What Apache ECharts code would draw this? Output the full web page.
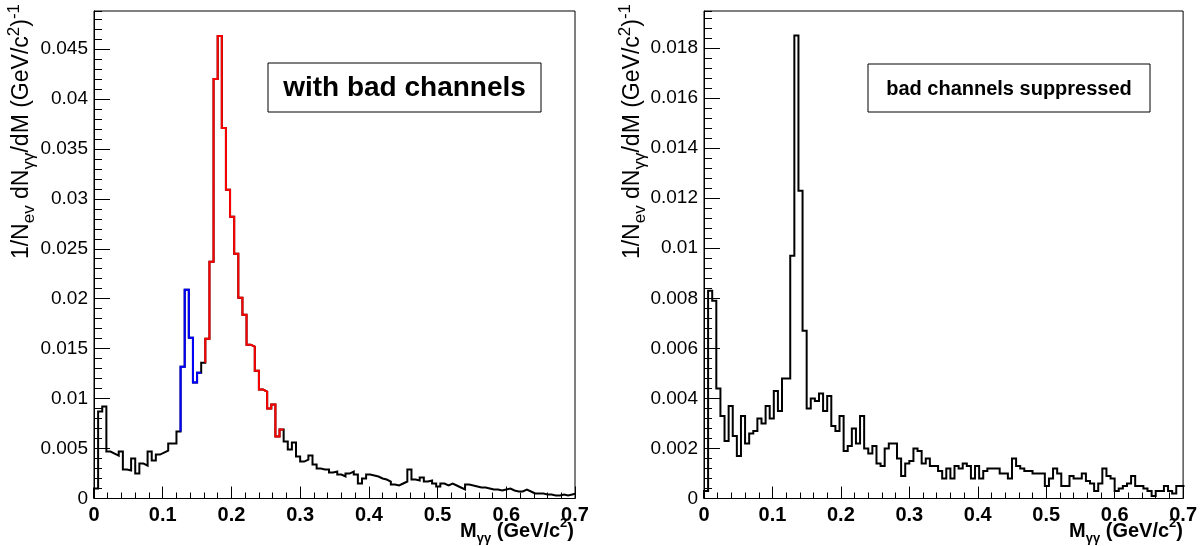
<!DOCTYPE html>
<html><head><meta charset="utf-8">
<script src="https://cdn.jsdelivr.net/npm/echarts@6/dist/echarts.min.js"></script>
<style>html,body{margin:0;padding:0;background:#fff}#c{width:1200px;height:546px}</style>
</head><body><div id="c"></div>
<script>
// ---------------- data ----------------
const BIN_WIDTH = 0.006;                 // histogram bin width in GeV/c^2
const xTickLabels = ['0', '0.1', '0.2', '0.3', '0.4', '0.5', '0.6', '0.7'];
const leftTitle = 'with bad channels';
const rightTitle = 'bad channels suppressed';

const leftValues = [
  0.0010, 0.0087, 0.0092, 0.0047, 0.0045, 0.0043, 0.0047, 0.0029, 0.0028, 0.0040,
  0.0025, 0.0035, 0.0033, 0.0047, 0.0038, 0.0044, 0.0046, 0.0048, 0.0055, 0.0055,
  0.0067, 0.0132, 0.0209, 0.0161, 0.0116, 0.0126, 0.0136, 0.0160, 0.0237, 0.0420,
  0.0463, 0.0371, 0.0309, 0.0282, 0.0245, 0.0201, 0.0184, 0.0154, 0.0152, 0.0128,
  0.0109, 0.0107, 0.0090, 0.0094, 0.0062, 0.0069, 0.0057, 0.0049, 0.0056, 0.0042,
  0.0037, 0.0039, 0.0043, 0.0034, 0.0030, 0.0029, 0.0029, 0.0026, 0.0027, 0.0024,
  0.0022, 0.0025, 0.0027, 0.0024, 0.0015, 0.0020, 0.0024, 0.0023, 0.0022, 0.0020,
  0.0019, 0.0017, 0.0014, 0.0013, 0.0015, 0.0017, 0.0029, 0.0019, 0.0018, 0.0021,
  0.0017, 0.0018, 0.0015, 0.0012, 0.0015, 0.0013, 0.0015, 0.0013, 0.0011, 0.0009,
  0.0014, 0.0013, 0.0012, 0.0011, 0.0011, 0.0010, 0.0009, 0.0009, 0.0008, 0.0009,
  0.0010, 0.0008, 0.0007, 0.0007, 0.0009, 0.0007, 0.0005, 0.0005, 0.0005, 0.0004,
  0.0004, 0.0003, 0.0003, 0.0004, 0.0003, 0.0004, 0.0005
];
const leftBlueBins = [21, 25];   // first / last bin drawn in blue
const leftRedBins = [27, 45];    // first / last bin drawn in red

const rightValues = [
  0.0003, 0.0083, 0.0079, 0.0044, 0.0033, 0.0023, 0.0037, 0.0025, 0.0017, 0.0033,
  0.0022, 0.0026, 0.0027, 0.0032, 0.0030, 0.0037, 0.0032, 0.0043, 0.0035, 0.0048,
  0.0048, 0.0097, 0.0185, 0.0123, 0.0067, 0.0036, 0.0040, 0.0039, 0.0042, 0.0035,
  0.0041, 0.0029, 0.0027, 0.0033, 0.0019, 0.0021, 0.0028, 0.0022, 0.0033, 0.0020,
  0.0018, 0.0021, 0.0014, 0.0013, 0.0020, 0.0022, 0.0022, 0.0016, 0.0009, 0.0014,
  0.0015, 0.0020, 0.0019, 0.0014, 0.0016, 0.0013, 0.0013, 0.0011, 0.0008, 0.0012,
  0.0008, 0.0013, 0.0012, 0.0014, 0.0013, 0.0008, 0.0013, 0.0008, 0.0011, 0.0012,
  0.0012, 0.0012, 0.0010, 0.0010, 0.0008, 0.0016, 0.0013, 0.0012, 0.0011, 0.0011,
  0.0010, 0.0010, 0.0010, 0.0005, 0.0008, 0.0012, 0.0010, 0.0005, 0.0005, 0.0009,
  0.0008, 0.0008, 0.0010, 0.0007, 0.0006, 0.0003, 0.0006, 0.0012, 0.0009, 0.0008,
  0.0003, 0.0004, 0.0005, 0.0006, 0.0009, 0.0005, 0.0005, 0.0004, 0.0003, 0.0001,
  0.0003, 0.0003, 0.0005, 0.0003, 0.0002, 0.0005, 0.0005
];

// ---------------- helpers ----------------
function stepPoints(vals, from, to, startFromPrev) {
  const pts = [];
  pts.push([from * BIN_WIDTH, (startFromPrev && from > 0) ? vals[from - 1] : 0]);
  for (let i = from; i <= to; i++) {
    pts.push([i * BIN_WIDTH, vals[i]]);
    pts.push([(i + 1) * BIN_WIDTH, vals[i]]);
  }
  return pts;
}

const FONT = '"Liberation Sans", Arial, Helvetica, sans-serif';
const BLACK = '#000000';

function xAxisCfg(gi) {
  return {
    type: 'value', gridIndex: gi, min: 0, max: 0.7, interval: 0.1,
    axisLine: { show: true, onZero: false, lineStyle: { color: BLACK, width: 1 } },
    axisTick: { show: true, inside: true, length: 12, lineStyle: { color: BLACK, width: 1 } },
    minorTick: { show: true, splitNumber: 5, length: 6, lineStyle: { color: BLACK, width: 1 } },
    splitLine: { show: false }, minorSplitLine: { show: false },
    axisLabel: {
      color: BLACK, fontFamily: FONT, fontWeight: 'bold', fontSize: 20, margin: 7,
      formatter: v => xTickLabels[Math.round(v * 10)] ?? ''
    }
  };
}
function yMajorCfg(gi, max, interval, decimals) {
  return {
    type: 'value', gridIndex: gi, position: 'left', min: 0, max: max, interval: interval,
    axisLine: { show: true, onZero: false, lineStyle: { color: BLACK, width: 1 } },
    axisTick: { show: true, inside: true, length: 16, lineStyle: { color: BLACK, width: 1 } },
    splitLine: { show: false },
    axisLabel: {
      color: BLACK, fontFamily: FONT, fontSize: 19, margin: 6, showMaxLabel: false,
      formatter: v => v === 0 ? '0' : String(+v.toFixed(decimals))
    }
  };
}
function yMinorCfg(gi, max, interval) {
  return {
    type: 'value', gridIndex: gi, position: 'left', min: 0, max: max, interval: interval,
    axisLine: { show: false },
    axisTick: { show: true, inside: true, length: 8, lineStyle: { color: BLACK, width: 1 } },
    splitLine: { show: false },
    axisLabel: { show: false }
  };
}

const richBase = {
  b: { fontFamily: FONT, fontSize: 23, lineHeight: 32, color: BLACK },
  sub: { fontFamily: FONT, fontSize: 17, lineHeight: 17, verticalAlign: 'bottom', color: BLACK },
  sup: { fontFamily: FONT, fontSize: 17, lineHeight: 17, verticalAlign: 'top', color: BLACK }
};
const richBold = {
  b: { fontFamily: FONT, fontSize: 20, fontWeight: 'bold', lineHeight: 28, color: BLACK },
  sub: { fontFamily: FONT, fontSize: 13, fontWeight: 'bold', lineHeight: 13, verticalAlign: 'bottom', color: BLACK },
  sup: { fontFamily: FONT, fontSize: 13, fontWeight: 'bold', lineHeight: 13, verticalAlign: 'top', color: BLACK }
};
const yTitleText = '{b|1/N}{sub|ev}{b| dN}{sub|γγ}{b|/dM (GeV/c}{sup|2}{b|)}{sup|-1}';
const xTitleText = '{b|M}{sub|γγ}{b| (GeV/c}{sup|2}{b|)}';

function yTitle(x) {
  return { type: 'text', x: x, y: 4, rotation: Math.PI / 2, z: 10,
    style: { text: yTitleText, rich: richBase, align: 'right', verticalAlign: 'middle' } };
}
function xTitle(x) {
  return { type: 'text', x: x, y: 531, z: 10,
    style: { text: xTitleText, rich: richBold, align: 'right', verticalAlign: 'middle' } };
}
function pave(x, y, w, h, text, size) {
  return [
    { type: 'rect', shape: { x: x, y: y, width: w, height: h }, z: 20,
      style: { fill: '#ffffff', stroke: BLACK, lineWidth: 1 } },
    { type: 'text', x: x + w / 2, y: y + h / 2 + 1, z: 21,
      style: { text: text, fill: BLACK, font: 'bold ' + size + 'px ' + FONT, align: 'center', verticalAlign: 'middle' } }
  ];
}

const lineSeries = (xi, yi, data, color, z) => ({
  type: 'line', xAxisIndex: xi, yAxisIndex: yi, data: data, showSymbol: false, symbol: 'none',
  lineStyle: { color: color, width: 2, join: 'miter' }, itemStyle: { color: color }, z: z,
  clip: true, silent: true, animation: false
});

const nL = leftValues.length, nR = rightValues.length;

const option = {
  animation: false,
  backgroundColor: '#ffffff',
  grid: [
    { left: 94, top: 11, width: 481, height: 487.5, show: true, borderColor: BLACK, borderWidth: 1, backgroundColor: 'transparent' },
    { left: 704, top: 11, width: 480, height: 487.5, show: true, borderColor: BLACK, borderWidth: 1, backgroundColor: 'transparent' }
  ],
  xAxis: [xAxisCfg(0), xAxisCfg(1)],
  yAxis: [
    yMajorCfg(0, 0.0488, 0.005, 3), yMinorCfg(0, 0.0488, 0.001),
    yMajorCfg(1, 0.01948, 0.002, 3), yMinorCfg(1, 0.01948, 0.0004)
  ],
  series: [
    lineSeries(0, 0, stepPoints(leftValues, 0, nL - 1, false), BLACK, 2),
    lineSeries(0, 0, stepPoints(leftValues, leftBlueBins[0], leftBlueBins[1], true), '#0000ff', 3),
    lineSeries(0, 0, stepPoints(leftValues, leftRedBins[0], leftRedBins[1], true), '#ff0000', 3),
    lineSeries(1, 2, stepPoints(rightValues, 0, nR - 1, false), BLACK, 2)
  ],
  graphic: [
    yTitle(22), yTitle(633), xTitle(574), xTitle(1183),
    ...pave(268, 63, 273, 49, leftTitle, 28),
    ...pave(868, 64, 282, 48, rightTitle, 20)
  ]
};

const chart = echarts.init(document.getElementById('c'), null, { renderer: 'canvas', width: 1200, height: 546 });
chart.setOption(option);
</script>
</body></html>
